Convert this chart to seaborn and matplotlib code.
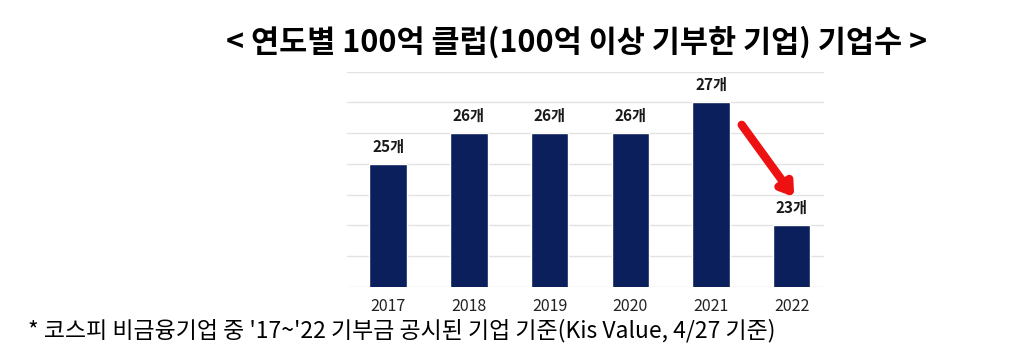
import matplotlib
matplotlib.use("Agg")
import matplotlib.pyplot as plt
import seaborn as sns
import pandas as pd

years = ["2017", "2018", "2019", "2020", "2021", "2022"]
counts = [25, 26, 26, 26, 27, 23]
value_labels = ["25개", "26개", "26개", "26개", "27개", "23개"]
title = "< 연도별 100억 클럽(100억 이상 기부한 기업) 기업수 >"
footnote = "* 코스피 비금융기업 중 '17~'22 기부금 공시된 기업 기준(Kis Value, 4/27 기준)"

sns.set_theme(style="white")
plt.rcParams['font.family'] = ['Noto Sans CJK KR', 'DejaVu Sans']

df = pd.DataFrame({"year": years, "count": counts})

fig = plt.figure(figsize=(10.24, 3.59), dpi=100)
ax = fig.add_axes([0.3389, 0.2014, 0.4658, 0.5989])

sns.barplot(data=df, x="year", y="count", color="#0B1F5C", width=0.465,
            saturation=1, ax=ax, zorder=3)

ax.set_ylim(21, 28)
ax.set_xlim(-0.51, 5.4)
ax.set_yticks(range(21, 29))
ax.yaxis.grid(True, color="#E3E3E3", linewidth=1.0, zorder=0)
ax.set_axisbelow(True)
ax.tick_params(axis="y", left=False, labelleft=False)
ax.tick_params(axis="x", bottom=False, labelsize=11.5, colors="#222222", pad=2)
ax.set_xlabel("")
ax.set_ylabel("")
for s in ax.spines.values():
    s.set_visible(False)

for i, (v, lab) in enumerate(zip(counts, value_labels)):
    ax.text(i, v + 0.3, lab, ha="center", va="bottom", fontsize=11,
            fontweight="bold", color="#1A1A1A")

# red arrow indicating decrease from 2021 to 2022
ax.annotate("", xy=(5.03, counts[5] + 0.92), xytext=(4.38, counts[4] - 0.73),
            arrowprops=dict(arrowstyle="-|>,head_length=0.6,head_width=0.4",
                            color="#EE1111", lw=6, shrinkA=0, shrinkB=0),
            zorder=5)

fig.text(0.5635, 0.883, title, ha="center", va="center", fontsize=22,
         fontweight="bold", color="#000000")
fig.text(0.027, 0.08, footnote, ha="left", va="center", fontsize=16.5,
         color="#000000")

fig.savefig("out.png", dpi=100)
